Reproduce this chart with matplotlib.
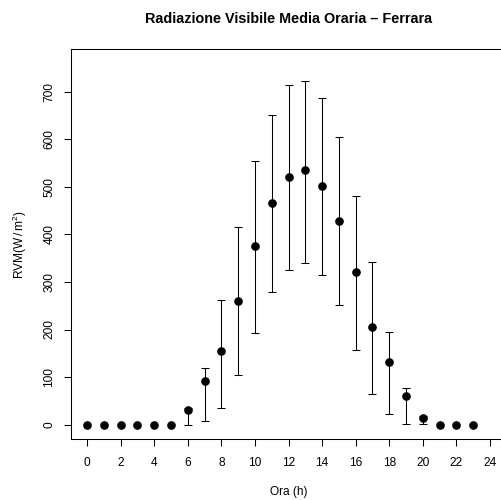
import numpy as np
import matplotlib
matplotlib.use("Agg")
from matplotlib import pyplot as plt

plt.rcParams['font.family'] = ['Liberation Sans', 'DejaVu Sans']
plt.rcParams['mathtext.fontset'] = 'custom'
plt.rcParams['mathtext.rm'] = 'Liberation Sans'
plt.rcParams['mathtext.it'] = 'Liberation Sans:italic'

# hourly visible radiation, Ferrara
hours = np.arange(24)
rvm_mean = [0, 0, 0, 0, 0, 0, 31, 91, 155, 261, 376, 466,
            521, 535, 503, 429, 321, 206, 132, 61, 13, 0, 0, 0]
rvm_upper = [0, 0, 0, 0, 0, 0, 35, 120, 263, 415, 554, 651,
             715, 724, 687, 605, 482, 343, 195, 77, 18, 0, 0, 0]
rvm_lower = [0, 0, 0, 0, 0, 0, 0, 8, 34, 105, 193, 278,
             325, 341, 315, 251, 157, 65, 23, 1, 1, 0, 0, 0]

x_ticks = list(range(0, 25, 2))
y_ticks = list(range(0, 701, 100))

mean = np.array(rvm_mean, dtype=float)
up = np.array(rvm_upper, dtype=float)
lo = np.array(rvm_lower, dtype=float)

W, H = 501, 500
fig = plt.figure(figsize=(W / 100, H / 100), dpi=100)
ax = fig.add_axes([71 / W, (H - 439) / H, (506 - 71) / W, (439 - 49) / H])

m = up > lo
ax.errorbar(hours[m], mean[m], yerr=[mean[m] - lo[m], up[m] - mean[m]],
            fmt='none', ecolor='black', elinewidth=0.75, capsize=2.9,
            capthick=0.75)
ax.plot(hours, mean, 'o', color='black', markersize=5.2, zorder=3)

ax.set_xlim(-0.96, 24.96)
ax.set_ylim(-30.4, 790.4)
ax.set_xticks(x_ticks)
ax.set_yticks(y_ticks)
ax.set_yticklabels([str(v) for v in y_ticks], rotation=90, va='center')
ax.tick_params(axis='both', direction='out', length=5.2, width=0.75,
               labelsize=8.6, color='black')
ax.tick_params(axis='x', pad=8)
ax.tick_params(axis='y', pad=6)
for s in ax.spines.values():
    s.set_linewidth(0.75)

fig.text(288.5 / W, 1 - 19 / H, 'Radiazione Visibile Media Oraria \u2013 Ferrara',
         ha='center', va='center', fontsize=10.4, fontweight='bold')
fig.text(288.5 / W, 1 - 491.5 / H, 'Ora (h)', ha='center', va='center',
         fontsize=8.6)
fig.text(20 / W, 1 - 245 / H, r'RVM(W$\,$/$\,$m$^2$)', ha='center', va='center',
         rotation=90, fontsize=8.6)

fig.savefig('out.png', dpi=100)
